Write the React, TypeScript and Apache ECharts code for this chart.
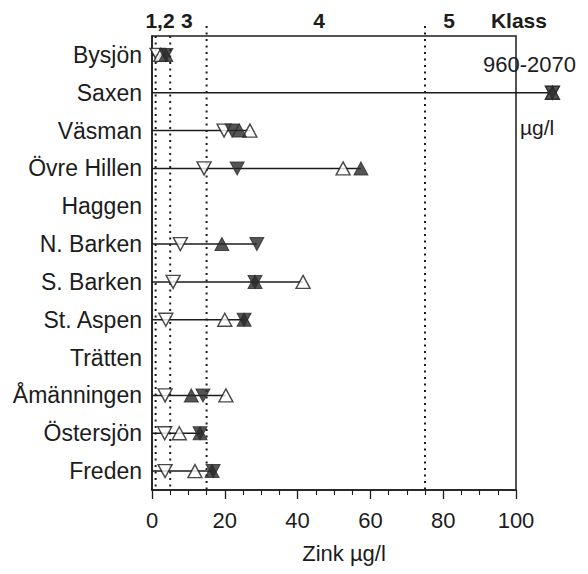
import React, { useEffect, useRef } from "react";
import * as echarts from "echarts";

// Lakes, top to bottom
const CATEGORIES = [
  "Bysjön",
  "Saxen",
  "Väsman",
  "Övre Hillen",
  "Haggen",
  "N. Barken",
  "S. Barken",
  "St. Aspen",
  "Trätten",
  "Åmänningen",
  "Östersjön",
  "Freden",
];

// Zinc, µg/l. Saxen (960–2070 µg/l) lies far off the scale and is placed at 110, just past the frame.
const OPEN_DOWN = [1.4, 110, 19.8, 14.3, null, 7.8, 5.8, 3.8, null, 3.6, 3.5, 3.6];
const FILLED_DOWN = [3.8, 110, 22, 23.4, null, 28.8, 28.3, 25.3, null, 14, 13.2, 16.8];
const OPEN_UP = [2.4, 110, 26.9, 52.5, null, null, 41.5, 20, null, 20.3, 7.5, 11.8];
const FILLED_UP = [3.8, 110, 24, 57.4, null, 19.2, 28.3, 25.3, null, 10.8, 13.2, 16.5];

// Class limits (µg/l) and class names along the top
const CLASS_LIMITS = [1, 5, 15, 75];
const CLASS_LIMIT_ABOVE = [0, 0, 10, 10];
const CLASS_NAMES = ["1,2", "3", "4", "5", "Klass"];
const CLASS_NAME_AT = [2.2, 9.6, 45.9, 81.6, 100.8];

const X_TICKS = [0, 20, 40, 60, 80, 100];

const FONT = "'Liberation Sans', Arial, Helvetica, sans-serif";
const INK = "#1c1c1c";
const DARK = "#2b2b2b";

const rowMax = CATEGORIES.map((_, i) => {
  const vals = [OPEN_DOWN[i], FILLED_DOWN[i], OPEN_UP[i], FILLED_UP[i]].filter(
    (v) => v !== null
  ) as number[];
  return vals.length ? Math.max(...vals) : null;
});

function markerSeries(
  name: string,
  values: (number | null)[],
  down: boolean,
  filled: boolean
) {
  return {
    name,
    type: "scatter",
    clip: false,
    symbol: "triangle",
    symbolSize: [14, 13],
    symbolRotate: down ? 180 : 0,
    itemStyle: filled
      ? { color: DARK, borderColor: DARK, borderWidth: 1 }
      : { color: "#ffffff", borderColor: INK, borderWidth: 1.4 },
    data: values.map((v, i) => (v === null ? null : [v, CATEGORIES[i]])).filter(Boolean),
    z: filled ? 6 : 5,
  };
}

export default function App() {
  const ref = useRef<HTMLDivElement>(null);

  useEffect(() => {
    if (!ref.current) return;
    const chart = echarts.init(ref.current, null, { renderer: "svg" });

    const option = {
      animation: false,
      backgroundColor: "#ffffff",
      textStyle: { fontFamily: FONT },
      grid: {
        left: 152,
        right: 72,
        top: 36,
        bottom: 84,
        show: true,
        borderColor: INK,
        borderWidth: 1.5,
        backgroundColor: "transparent",
      },
      xAxis: {
        type: "value",
        min: 0,
        max: 100,
        interval: 20,
        axisLine: { show: true, lineStyle: { color: INK, width: 1.5 } },
        axisTick: { show: true, length: 9, lineStyle: { color: INK, width: 1.3 } },
        minorTick: { show: true, splitNumber: 4, length: 5, lineStyle: { color: INK, width: 1.1 } },
        splitLine: { show: false },
        axisLabel: {
          fontSize: 22,
          color: INK,
          margin: 19,
          formatter: (v: number) => (X_TICKS.includes(v) ? String(v) : ""),
        },
        name: "Zink µg/l",
        nameLocation: "middle",
        nameGap: 52,
        nameTextStyle: { fontSize: 22, color: INK, padding: [0, 0, 0, 20] },
      },
      yAxis: {
        type: "category",
        data: CATEGORIES,
        inverse: true,
        axisLine: { show: true, lineStyle: { color: INK, width: 1.5 } },
        axisTick: { show: false },
        splitLine: { show: false },
        axisLabel: { fontSize: 23, color: INK, margin: 10 },
      },
      graphic: [
        {
          type: "text",
          left: 483,
          top: 53,
          style: { text: "960-2070", fontSize: 22, fill: INK, fontFamily: FONT },
        },
        {
          type: "text",
          left: 520,
          top: 117,
          style: { text: "µg/l", fontSize: 21, fill: INK, fontFamily: FONT },
        },
      ],
      series: [
        // dotted class limits
        {
          type: "custom",
          clip: false,
          silent: true,
          z: 2,
          data: CLASS_LIMITS.map((v, i) => [v, CLASS_LIMIT_ABOVE[i]]),
          renderItem: (params: any, api: any) => {
            const x = api.coord([api.value(0), 0])[0];
            const cs = params.coordSys;
            return {
              type: "line",
              shape: { x1: x, y1: cs.y - api.value(1), x2: x, y2: cs.y + cs.height },
              style: { stroke: INK, lineWidth: 2, lineDash: [2, 4.5] },
            };
          },
        },
        // class names above the frame
        {
          type: "custom",
          clip: false,
          silent: true,
          data: CLASS_NAME_AT.map((v) => [v, 0]),
          renderItem: (params: any, api: any) => {
            const x = api.coord([api.value(0), 0])[0];
            return {
              type: "text",
              x,
              y: params.coordSys.y - 16,
              style: {
                text: CLASS_NAMES[params.dataIndex],
                fontSize: 21,
                fontWeight: "bold",
                fontFamily: FONT,
                fill: INK,
                align: "center",
                verticalAlign: "middle",
              },
            };
          },
        },
        // range line from 0 to each lake's highest value
        {
          type: "custom",
          clip: false,
          silent: true,
          z: 3,
          data: rowMax
            .map((m, i) => (m === null ? null : [m, CATEGORIES[i]]))
            .filter(Boolean),
          renderItem: (_params: any, api: any) => {
            const end = api.coord([api.value(0), api.value(1)]);
            const start = api.coord([0, api.value(1)]);
            return {
              type: "line",
              shape: { x1: start[0], y1: start[1], x2: end[0], y2: end[1] },
              style: { stroke: INK, lineWidth: 1.5 },
            };
          },
        },
        markerSeries("open-down", OPEN_DOWN, true, false),
        markerSeries("open-up", OPEN_UP, false, false),
        markerSeries("filled-down", FILLED_DOWN, true, true),
        markerSeries("filled-up", FILLED_UP, false, true),
      ],
    };

    chart.setOption(option as any);
    return () => chart.dispose();
  }, []);

  return (
    <div
      ref={ref}
      style={{ position: "fixed", left: 0, top: 0, width: 588, height: 574, background: "#fff" }}
    />
  );
}
